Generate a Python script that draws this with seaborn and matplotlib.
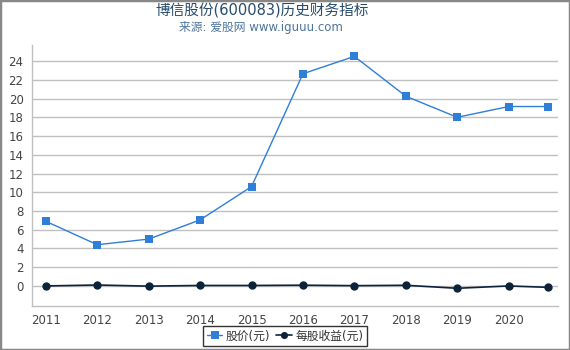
import numpy as np
import pandas as pd
import seaborn as sns
from matplotlib import pyplot as plt
from matplotlib.patches import Rectangle

# data
years = [2011, 2012, 2013, 2014, 2015, 2016, 2017, 2018, 2019, 2020, 2020.76]
price = [6.9, 4.4, 5.0, 7.05, 10.6, 22.65, 24.5, 20.25, 18.0, 19.15, 19.15]
eps = [0.0, 0.1, -0.02, 0.05, 0.05, 0.08, 0.03, 0.07, -0.25, 0.0, -0.15]
tick_years = [2011, 2012, 2013, 2014, 2015, 2016, 2017, 2018, 2019, 2020]
y_ticks = list(range(0, 26, 2))

sns.set_style("white")
plt.rcParams['font.family'] = ['DejaVu Sans', 'Noto Sans CJK SC']

df = pd.DataFrame({"year": years, "股价(元)": price, "每股收益(元)": eps})
long = df.melt(id_vars="year", var_name="series", value_name="value")

fig = plt.figure(figsize=(5.7, 3.5), dpi=100)
ax = fig.add_axes([0.056, 0.126, 0.923, 0.745])

for y in y_ticks:
    ax.axhline(y, color="#c0c0c0", lw=1, zorder=0)

sns.lineplot(data=long[long.series == "股价(元)"], x="year", y="value",
             color="#2f7ed8", marker="s", markersize=6, markeredgewidth=0,
             lw=1, ax=ax, label="股价(元)")
sns.lineplot(data=long[long.series == "每股收益(元)"], x="year", y="value",
             color="#0d233a", marker="o", markersize=6, markeredgewidth=0,
             lw=1.2, ax=ax, label="每股收益(元)")

ax.set_xlim(2010.73, 2020.96)
ax.set_ylim(-2.13, 25.7)
ax.set_xticks(tick_years)
ax.set_yticks(y_ticks)
ax.set_xlabel("")
ax.set_ylabel("")
for s in ["top", "right"]:
    ax.spines[s].set_visible(False)
for s in ["left", "bottom"]:
    ax.spines[s].set_color("#c0c0c0")
    ax.spines[s].set_linewidth(1)
ax.tick_params(axis="both", labelsize=8.5, colors="#444444", length=3, width=1)
ax.tick_params(axis="x", color="#c0c0c0", pad=3)
ax.tick_params(axis="y", color="#c0c0c0", pad=3)

leg = ax.legend(loc="upper center", bbox_to_anchor=(0.5, 0.069),
                bbox_transform=fig.transFigure, ncol=2,
                frameon=True, fontsize=8.5, handlelength=1.3, handletextpad=0.3,
                columnspacing=0.5, borderpad=0.3, borderaxespad=0,
                fancybox=False, markerscale=0.85)
leg.get_frame().set_edgecolor("black")
leg.get_frame().set_linewidth(1)
for t in leg.get_texts():
    t.set_color("#333333")

fig.text(0.46, 0.968, "博信股份(600083)历史财务指标", ha="center", va="center",
         fontsize=10.5, color="#274b6d")
fig.text(0.458, 0.92, "来源: 爱股网 www.iguuu.com", ha="center", va="center",
         fontsize=8.5, color="#4d759e")

fig.patches.append(Rectangle((0, 0), 1, 1, transform=fig.transFigure,
                             fill=False, edgecolor="#888888", lw=2.5))

fig.savefig("out.png", dpi=100)
